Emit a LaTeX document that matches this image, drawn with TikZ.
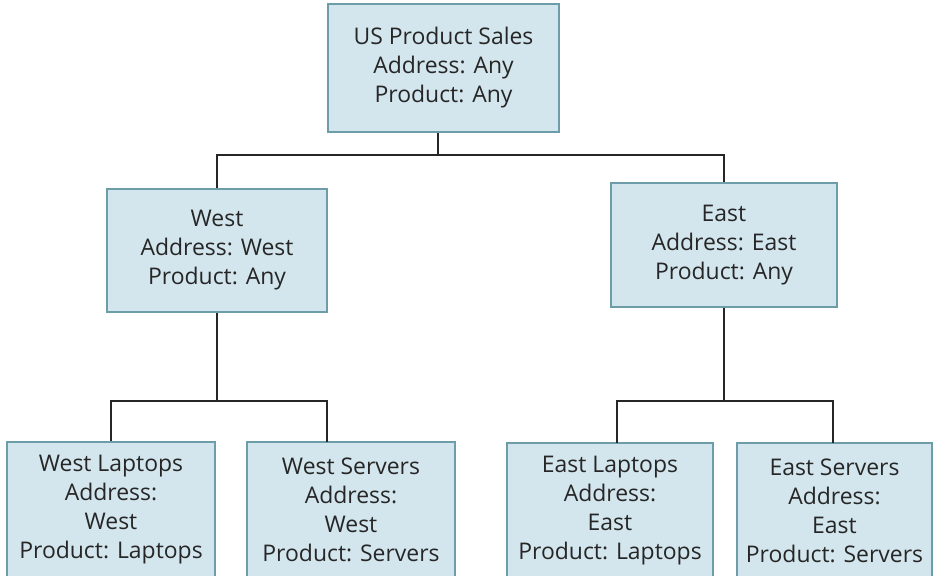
\documentclass[tikz,border=0pt]{standalone}
\usepackage{fontspec}
\setmainfont{Open Sans}
\definecolor{boxfill}{HTML}{D3E6ED}
\definecolor{boxline}{HTML}{6E9DAA}
\definecolor{linkline}{HTML}{262626}
\definecolor{textgray}{HTML}{262626}
\begin{document}
\begin{tikzpicture}[x=0.75pt,y=-0.75pt]
\tikzset{kasten/.style={draw=boxline,fill=boxfill,line width=1.5pt,inner sep=0pt,
  align=center,text=textgray,font=\fontsize{17.2}{21.75}\selectfont},
  linie/.style={draw=linkline,line width=1.9pt}}
\useasboundingbox (0,0) rectangle (935,575);
\clip (0,0) rectangle (935,575);
\node [kasten,minimum width=231*0.75pt,minimum height=128*0.75pt] (us) at (443.5,68) {US Product Sales\\Address: Any\\Product: Any};
\node [kasten,minimum width=220*0.75pt,minimum height=123*0.75pt] (west) at (217,250.5) {West\\Address: West\\Product: Any};
\node [kasten,minimum width=226*0.75pt,minimum height=124*0.75pt] (east) at (724,245) {East\\Address: East\\Product: Any};
\node [kasten,minimum width=208*0.75pt,minimum height=136*0.75pt] (wl) at (111,510) {West Laptops\\Address:\\West\\Product: Laptops};
\node [kasten,minimum width=208*0.75pt,minimum height=136*0.75pt] (ws) at (351,510) {West Servers\\Address:\\West\\Product: Servers};
\node [kasten,minimum width=206*0.75pt,minimum height=136*0.75pt] (el) at (610,511) {East Laptops\\Address:\\East\\Product: Laptops};
\node [kasten,minimum width=195*0.75pt,minimum height=136*0.75pt] (es) at (834.5,511) {East Servers\\Address:\\East\\Product: Servers};
\coordinate (usj) at (438,155);
\coordinate (wj) at (217,401);
\coordinate (ej) at (724,401);
\coordinate (wsin) at (327,442);
\coordinate (elin) at (617,443);
\coordinate (esin) at (833,443);
\draw[linie] (usj |- us.south) to (usj);
\draw[linie] (west.north) |- (usj) -| (east.north);
\draw[linie] (west.south) to (wj);
\draw[linie] (wl.north) |- (wj) -| (wsin);
\draw[linie] (east.south) to (ej);
\draw[linie] (elin) |- (ej) -| (esin);
\end{tikzpicture}
\end{document}
